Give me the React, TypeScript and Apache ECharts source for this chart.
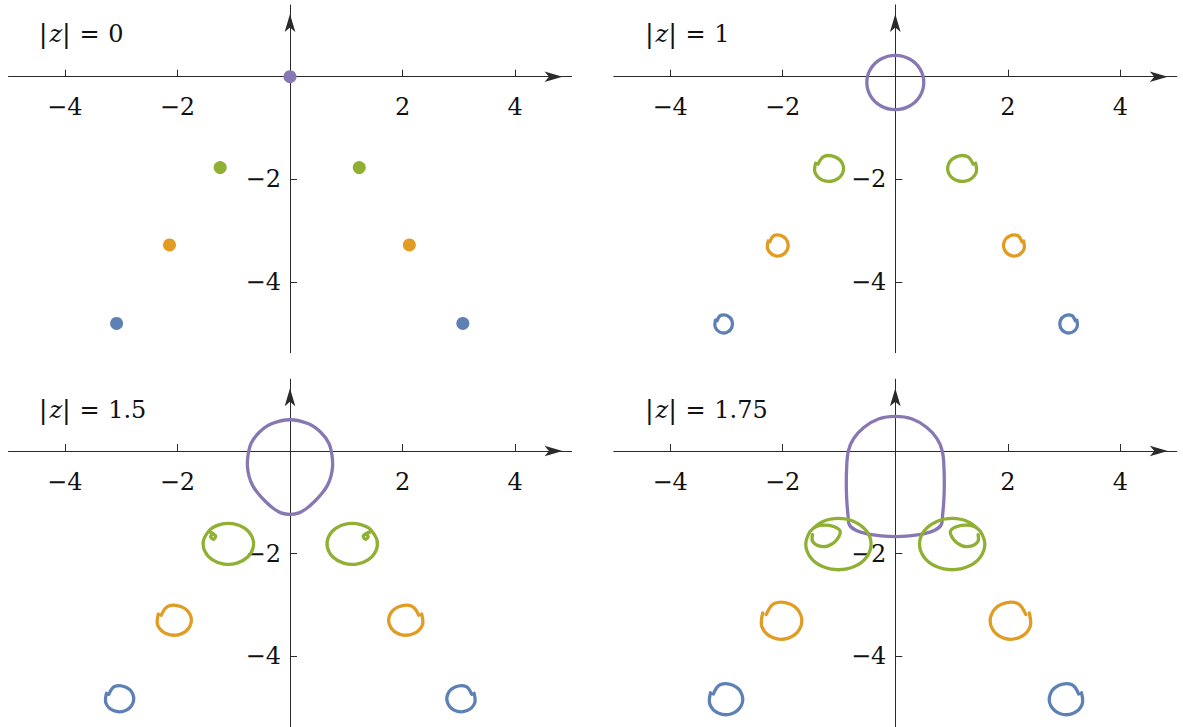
import { useEffect, useRef } from 'react';
import * as echarts from 'echarts';

// Colours of the four eigenvalue families
const BLUE = '#5E81B5';
const ORANGE = '#E19C24';
const GREEN = '#8FB032';
const PURPLE = '#8778B3';
const AXIS = '#2a2a2a';
const TEXT = '#111111';
const FONT = 'DejaVu Serif';
const TICK_FONT_SIZE = 24;

// Panel captions (value of |z|)
const captions = ['0', '1', '1.5', '1.75'];

// Axis ticks and labels
const xTickVals = [-4, -2, 0, 2, 4];
const xLabelVals = [-4, -2, 2, 4];
const yTickVals = [-4, -2, 0];
const yLabelVals = [-4, -2];

// |z| = 0 : eigenvalues as single points
const dotsPurple0 = [[0, 0]];
const dotsGreen0 = [[-1.24, -1.77], [1.23, -1.77]];
const dotsOrange0 = [[-2.14, -3.28], [2.12, -3.28]];
const dotsBlue0 = [[-3.08, -4.81], [3.07, -4.81]];

// |z| = 1
const purple1 = [[0, -0.641], [0.253, -0.57], [0.438, -0.377], [0.506, -0.113], [0.438, 0.151], [0.253, 0.344], [0, 0.415], [-0.253, 0.344], [-0.438, 0.151], [-0.506, -0.113], [-0.438, -0.377], [-0.253, -0.57]];
const greenL1 = [[-1.416, -1.684], [-1.424, -1.876], [-1.29, -2.017], [-1.091, -2.025], [-0.944, -1.896], [-0.936, -1.704], [-1.07, -1.563], [-1.269, -1.555], [-1.372, -1.705]];
const greenR1 = [[1.426, -1.684], [1.434, -1.876], [1.3, -2.017], [1.101, -2.025], [0.954, -1.896], [0.946, -1.704], [1.08, -1.563], [1.279, -1.555], [1.382, -1.705]];
const orangeL1 = [[-2.259, -3.203], [-2.266, -3.36], [-2.169, -3.476], [-2.026, -3.483], [-1.921, -3.377], [-1.914, -3.22], [-2.011, -3.104], [-2.154, -3.097], [-2.228, -3.22]];
const orangeR1 = [[2.279, -3.203], [2.286, -3.36], [2.189, -3.476], [2.046, -3.483], [1.941, -3.377], [1.934, -3.22], [2.031, -3.104], [2.174, -3.097], [2.248, -3.22]];
const blueL1 = [[-3.195, -4.746], [-3.2, -4.88], [-3.118, -4.979], [-2.995, -4.985], [-2.905, -4.894], [-2.9, -4.76], [-2.982, -4.661], [-3.105, -4.655], [-3.168, -4.76]];
const blueR1 = [[3.225, -4.746], [3.23, -4.88], [3.148, -4.979], [3.025, -4.985], [2.935, -4.894], [2.93, -4.76], [3.012, -4.661], [3.135, -4.655], [3.198, -4.76]];

// |z| = 1.5
const purple15 = [[0, -1.235], [0.16, -1.205], [0.3, -1.115], [0.44, -0.98], [0.565, -0.83], [0.665, -0.67], [0.728, -0.49], [0.756, -0.3], [0.745, -0.08], [0.69, 0.15], [0.55, 0.36], [0.33, 0.53], [0, 0.61], [-0.33, 0.53], [-0.55, 0.36], [-0.69, 0.15], [-0.745, -0.08], [-0.756, -0.3], [-0.728, -0.49], [-0.665, -0.67], [-0.565, -0.83], [-0.44, -0.98], [-0.3, -1.115], [-0.16, -1.205]];
const greenL15 = [[-1.438, -1.553], [-1.536, -1.74], [-1.516, -1.947], [-1.383, -2.116], [-1.173, -2.204], [-0.942, -2.186], [-0.752, -2.067], [-0.654, -1.88], [-0.674, -1.673], [-0.807, -1.504], [-1.017, -1.416], [-1.248, -1.434], [-1.438, -1.553], [-1.37, -1.61], [-1.32, -1.66], [-1.36, -1.72], [-1.41, -1.67], [-1.38, -1.62]];
const greenR15 = [[1.448, -1.553], [1.546, -1.74], [1.526, -1.947], [1.393, -2.116], [1.183, -2.204], [0.952, -2.186], [0.762, -2.067], [0.664, -1.88], [0.684, -1.673], [0.817, -1.504], [1.027, -1.416], [1.258, -1.434], [1.448, -1.553], [1.35, -1.61], [1.3, -1.66], [1.34, -1.72], [1.39, -1.67], [1.36, -1.62]];
const orangeL15 = [[-2.338, -3.177], [-2.349, -3.399], [-2.19, -3.563], [-1.955, -3.573], [-1.782, -3.423], [-1.771, -3.201], [-1.93, -3.037], [-2.165, -3.027], [-2.287, -3.201]];
const orangeR15 = [[2.338, -3.177], [2.349, -3.399], [2.19, -3.563], [1.955, -3.573], [1.782, -3.423], [1.771, -3.201], [1.93, -3.037], [2.165, -3.027], [2.287, -3.201]];
const blueL15 = [[-3.26, -4.723], [-3.269, -4.917], [-3.137, -5.059], [-2.943, -5.068], [-2.8, -4.937], [-2.791, -4.743], [-2.923, -4.601], [-3.117, -4.592], [-3.218, -4.744]];
const blueR15 = [[3.27, -4.723], [3.279, -4.917], [3.147, -5.059], [2.953, -5.068], [2.81, -4.937], [2.801, -4.743], [2.933, -4.601], [3.127, -4.592], [3.228, -4.744]];

// |z| = 1.75
const purple175 = [[0, -1.67], [0.25, -1.655], [0.5, -1.615], [0.7, -1.545], [0.815, -1.44], [0.84, -1.25], [0.86, -1.0], [0.87, -0.7], [0.865, -0.35], [0.835, 0], [0.74, 0.24], [0.56, 0.46], [0.3, 0.625], [0, 0.675], [-0.3, 0.625], [-0.56, 0.46], [-0.74, 0.24], [-0.835, 0], [-0.865, -0.35], [-0.87, -0.7], [-0.86, -1.0], [-0.84, -1.25], [-0.815, -1.44], [-0.7, -1.545], [-0.5, -1.615], [-0.25, -1.655]];
const greenL175 = [[-1.512, -1.565], [-1.3, -1.382], [-1.01, -1.315], [-0.72, -1.382], [-0.508, -1.565], [-0.43, -1.815], [-0.508, -2.065], [-0.72, -2.248], [-1.01, -2.315], [-1.3, -2.248], [-1.512, -2.065], [-1.59, -1.815], [-1.512, -1.565], [-1.4, -1.47], [-1.25, -1.445], [-1.1, -1.47], [-0.98, -1.56], [-1.04, -1.73], [-1.19, -1.85], [-1.36, -1.85], [-1.47, -1.76], [-1.47, -1.63]];
const greenR175 = [[1.512, -1.565], [1.3, -1.382], [1.01, -1.315], [0.72, -1.382], [0.508, -1.565], [0.43, -1.815], [0.508, -2.065], [0.72, -2.248], [1.01, -2.315], [1.3, -2.248], [1.512, -2.065], [1.59, -1.815], [1.512, -1.565], [1.4, -1.47], [1.25, -1.445], [1.1, -1.47], [0.98, -1.56], [1.04, -1.73], [1.19, -1.85], [1.36, -1.85], [1.47, -1.76], [1.47, -1.63]];
const orangeL175 = [[-2.355, -3.158], [-2.367, -3.433], [-2.179, -3.636], [-1.901, -3.648], [-1.695, -3.462], [-1.683, -3.187], [-1.871, -2.984], [-2.149, -2.972], [-2.294, -3.188]];
const orangeR175 = [[2.38, -3.158], [2.392, -3.433], [2.204, -3.636], [1.926, -3.648], [1.72, -3.462], [1.708, -3.187], [1.896, -2.984], [2.174, -2.972], [2.319, -3.188]];
const blueL175 = [[-3.282, -4.713], [-3.292, -4.943], [-3.137, -5.112], [-2.907, -5.122], [-2.738, -4.967], [-2.728, -4.737], [-2.883, -4.568], [-3.113, -4.558], [-3.232, -4.738]];
const blueR175 = [[3.307, -4.713], [3.317, -4.943], [3.162, -5.112], [2.932, -5.122], [2.763, -4.967], [2.753, -4.737], [2.908, -4.568], [3.138, -4.558], [3.257, -4.738]];

// Layout of the four panels (pixels)
const gridBoxes = [
  { left: 8.5, top: 4.9 },
  { left: 613.8, top: 4.9 },
  { left: 8.5, top: 379.2 },
  { left: 613.8, top: 379.2 },
];
const GRID_W = 563;
const GRID_H = 347.8;
const X_MIN = -5;
const X_MAX = 5;
const Y_MIN = -5.38;
const Y_MAX = 1.4;
// distance of the axes from the grid edges so that they cross at the origin
const X_AXIS_OFFSET = -(GRID_H * (0 - Y_MIN)) / (Y_MAX - Y_MIN);
const Y_AXIS_OFFSET = -(GRID_W * (0 - X_MIN)) / (X_MAX - X_MIN);

const captionPos = [
  [38.8, 34.2],
  [644.9, 34.2],
  [38.8, 410],
  [644.9, 410],
];

const fmt = (v: number) => (v < 0 ? '\u2212' + Math.abs(v) : String(v));

// One traced eigenvalue path, drawn as a smooth curve through its points
function loop(grid: number, data: number[][], color: string, z: number, closed = false) {
  return {
    type: 'custom',
    coordinateSystem: 'cartesian2d',
    xAxisIndex: grid,
    yAxisIndex: grid,
    data,
    z,
    silent: true,
    clip: false,
    renderItem: (params: any, api: any) => {
      if (params.dataIndex !== 0) return null;
      const pts = data.map((p) => api.coord(p));
      return {
        type: closed ? 'polygon' : 'polyline',
        shape: { points: pts, smooth: 0.37 },
        style: { stroke: color, lineWidth: 3.3, fill: null, lineJoin: 'round', lineCap: 'round' },
      };
    },
  };
}

function dots(grid: number, data: number[][], color: string) {
  return {
    type: 'scatter',
    xAxisIndex: grid,
    yAxisIndex: grid,
    data,
    symbol: 'circle',
    symbolSize: 13,
    silent: true,
    z: 5,
    itemStyle: { color, opacity: 1 },
  };
}

export default function App() {
  const ref = useRef<HTMLDivElement>(null);

  useEffect(() => {
    if (!ref.current) return;
    const chart = echarts.init(ref.current, undefined, { renderer: 'svg' });

    const grids = gridBoxes.map((g) => ({
      left: g.left,
      top: g.top,
      width: GRID_W,
      height: GRID_H,
      containLabel: false,
      outerBoundsMode: 'none',
    }));

    const axisLine = {
      onZero: false,
      symbol: ['none', 'arrow'],
      symbolSize: [8, 18],
      symbolOffset: [0, -9],
      lineStyle: { color: AXIS, width: 1 },
    };

    const xAxes = gridBoxes.map((_, i) => ({
      gridIndex: i,
      type: 'value',
      min: X_MIN,
      max: X_MAX,
      position: 'bottom',
      offset: X_AXIS_OFFSET,
      axisLine,
      axisTick: {
        show: true,
        inside: true,
        length: 7,
        customValues: xTickVals,
        lineStyle: { color: AXIS, width: 1 },
      },
      axisLabel: {
        customValues: xLabelVals,
        formatter: fmt,
        margin: 18.5,
        fontFamily: FONT,
        fontSize: TICK_FONT_SIZE,
        color: TEXT,
      },
      splitLine: { show: false },
    }));

    const yAxes = gridBoxes.map((_, i) => ({
      gridIndex: i,
      type: 'value',
      min: Y_MIN,
      max: Y_MAX,
      position: 'left',
      offset: Y_AXIS_OFFSET,
      axisLine,
      axisTick: {
        show: true,
        inside: true,
        length: 7,
        customValues: yTickVals,
        lineStyle: { color: AXIS, width: 1 },
      },
      axisLabel: {
        customValues: yLabelVals,
        formatter: fmt,
        margin: 9,
        padding: [6, 0, 0, 0],
        fontFamily: FONT,
        fontSize: TICK_FONT_SIZE,
        color: TEXT,
      },
      splitLine: { show: false },
    }));

    const captionRich = {
      b1: { fontFamily: FONT, fontSize: 26, fill: TEXT, padding: [0, 1.9, 0, 0] },
      z: { fontFamily: FONT, fontSize: 24, fontStyle: 'italic', fill: TEXT },
      b2: { fontFamily: FONT, fontSize: 26, fill: TEXT },
      e: { fontFamily: FONT, fontSize: 24, fill: TEXT, padding: [0, 8.6, 0, 8.6] },
      n: { fontFamily: FONT, fontSize: 24, fill: TEXT },
    };

    const graphic = captions.map((c, i) => ({
      type: 'text',
      x: captionPos[i][0],
      y: captionPos[i][1],
      silent: true,
      style: {
        text: `{b1||}{z|z}{b2||}{e|=}{n|${c}}`,
        rich: captionRich,
        fontFamily: FONT,
        fontSize: 24,
        fill: TEXT,
        align: 'left',
        verticalAlign: 'middle',
      },
    }));

    const series = [
      // |z| = 0
      dots(0, dotsPurple0, PURPLE),
      dots(0, dotsGreen0, GREEN),
      dots(0, dotsOrange0, ORANGE),
      dots(0, dotsBlue0, BLUE),
      // |z| = 1
      loop(1, purple1, PURPLE, 3, true),
      loop(1, blueL1, BLUE, 4),
      loop(1, blueR1, BLUE, 4),
      loop(1, orangeL1, ORANGE, 4),
      loop(1, orangeR1, ORANGE, 4),
      loop(1, greenL1, GREEN, 5),
      loop(1, greenR1, GREEN, 5),
      // |z| = 1.5
      loop(2, purple15, PURPLE, 3, true),
      loop(2, blueL15, BLUE, 4),
      loop(2, blueR15, BLUE, 4),
      loop(2, orangeL15, ORANGE, 4),
      loop(2, orangeR15, ORANGE, 4),
      loop(2, greenL15, GREEN, 5),
      loop(2, greenR15, GREEN, 5),
      // |z| = 1.75
      loop(3, purple175, PURPLE, 3, true),
      loop(3, blueL175, BLUE, 4),
      loop(3, blueR175, BLUE, 4),
      loop(3, orangeL175, ORANGE, 4),
      loop(3, orangeR175, ORANGE, 4),
      loop(3, greenL175, GREEN, 5),
      loop(3, greenR175, GREEN, 5),
    ];

    chart.setOption({
      animation: false,
      backgroundColor: '#ffffff',
      grid: grids,
      xAxis: xAxes,
      yAxis: yAxes,
      series,
      graphic,
    } as any);

    return () => chart.dispose();
  }, []);

  return (
    <div
      ref={ref}
      style={{ position: 'fixed', left: 0, top: 0, width: 1183, height: 727, background: '#fff' }}
    />
  );
}
